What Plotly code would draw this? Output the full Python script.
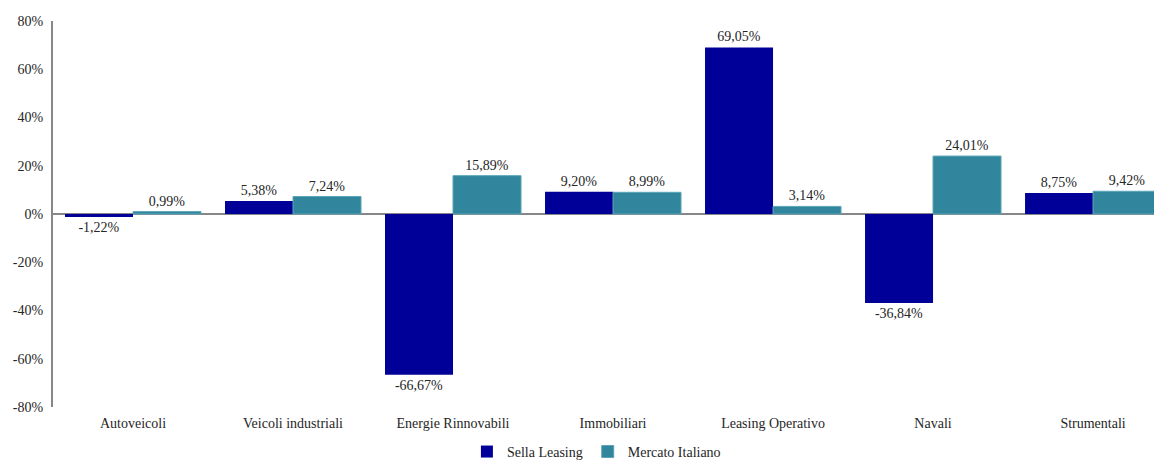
import plotly.graph_objects as go

categories = ["Autoveicoli", "Veicoli industriali", "Energie Rinnovabili", "Immobiliari",
              "Leasing Operativo", "Navali", "Strumentali"]
sella = [-1.22, 5.38, -66.67, 9.20, 69.05, -36.84, 8.75]
mercato = [0.99, 7.24, 15.89, 8.99, 3.14, 24.01, 9.42]
tick_vals = [-80, -60, -40, -20, 0, 20, 40, 60, 80]
tick_text = ["-80%", "-60%", "-40%", "-20%", "0%", "20%", "40%", "60%", "80%"]

FONT = "Liberation Serif"
SIZE = 14

fig = go.Figure()
fig.add_trace(go.Bar(x=categories, y=sella, name="Sella Leasing",
                     marker=dict(color="#000099", line=dict(width=0)),
                     texttemplate="%{y:.2f}%", textposition="outside",
                     textfont=dict(family=FONT, size=SIZE, color="#262626"),
                     cliponaxis=False))
fig.add_trace(go.Bar(x=categories, y=mercato, name="Mercato Italiano",
                     marker=dict(color="#31859C", line=dict(width=1, color="#5AA5B8")),
                     texttemplate="%{y:.2f}%", textposition="outside",
                     textfont=dict(family=FONT, size=SIZE, color="#262626"),
                     cliponaxis=False))

# the page body adds an 8px offset, so the figure is 8px smaller on each axis
fig.update_layout(
    width=1154, height=453,
    margin=dict(l=45, r=0, t=13, b=54, autoexpand=False),
    plot_bgcolor="white", paper_bgcolor="white",
    separators=",.",
    barmode="group", bargap=0.15, bargroupgap=0,
    font=dict(family=FONT, size=SIZE, color="#262626"),
    showlegend=True,
    legend=dict(orientation="h", x=0.49, xanchor="center", yref="container",
                y=0.02, yanchor="middle",
                font=dict(family=FONT, size=SIZE, color="#262626"),
                itemwidth=30, tracegroupgap=0),
    xaxis=dict(range=[-0.5, 6.431], showline=False, showgrid=False, ticks="",
               automargin=False, ticklabelstandoff=6,
               tickfont=dict(family=FONT, size=SIZE, color="#262626")),
    yaxis=dict(range=[-80, 80], tickvals=tick_vals, ticktext=tick_text,
               automargin=False, ticklabelstandoff=5,
               showgrid=False, showline=True, linecolor="#878787", linewidth=2,
               zeroline=True, zerolinecolor="#878787", zerolinewidth=2,
               ticks="", tickfont=dict(family=FONT, size=SIZE, color="#262626")),
)

fig.write_html("out.html")
